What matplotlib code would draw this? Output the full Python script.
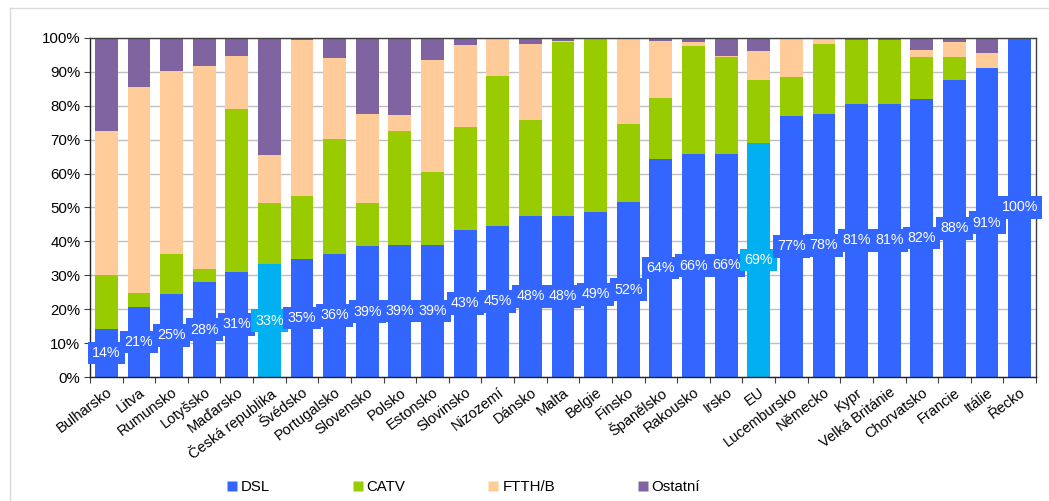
#!/usr/bin/env python3
"""Stacked 100% bar chart: broadband technology shares by country (CZ labels)."""

import matplotlib
matplotlib.use('Agg')
import matplotlib.pyplot as plt
import numpy as np
from matplotlib.lines import Line2D

plt.rcParams['font.family'] = ['Liberation Sans', 'DejaVu Sans']

countries = ['Bulharsko', 'Litva', 'Rumunsko', 'Lotyšsko', 'Maďarsko', 'Česká republika',
             'Švédsko', 'Portugalsko', 'Slovensko', 'Polsko', 'Estonsko', 'Slovinsko',
             'Nizozemí', 'Dánsko', 'Malta', 'Belgie', 'Finsko', 'Španělsko', 'Rakousko',
             'Irsko', 'EU', 'Lucembursko', 'Německo', 'Kypr', 'Velká Británie',
             'Chorvatsko', 'Francie', 'Itálie', 'Řecko']

dsl = [14.2, 20.6, 24.6, 28.0, 31.0, 33.2, 34.8, 36.3, 38.6, 38.9, 38.9, 43.4, 44.6,
       47.6, 47.6, 48.8, 51.6, 64.2, 65.7, 65.9, 69.1, 77.1, 77.6, 80.6, 80.6, 82.0,
       87.7, 91.0, 100.0]
catv = [16.0, 4.3, 11.6, 4.0, 48.1, 18.1, 18.5, 34.0, 12.7, 33.7, 21.6, 30.3, 44.3,
        28.2, 51.3, 50.8, 23.1, 18.0, 31.8, 28.5, 18.6, 11.3, 20.7, 18.9, 18.9, 12.4,
        6.7, 0.2, 0.0]
ftth = [42.5, 60.5, 54.0, 59.8, 15.5, 14.1, 46.0, 23.8, 26.2, 4.7, 33.1, 24.2, 11.1,
        22.5, 0.2, 0.1, 24.9, 16.9, 1.4, 0.2, 8.6, 11.3, 1.4, 0.0, 0.0, 2.2, 4.4, 4.4, 0.0]
ostatni = [27.3, 14.6, 9.8, 8.2, 5.4, 34.6, 0.7, 5.9, 22.5, 22.7, 6.4, 2.1, 0.0,
           1.7, 0.9, 0.3, 0.4, 0.9, 1.1, 5.4, 3.7, 0.3, 0.3, 0.5, 0.5, 3.4, 1.2, 4.4, 0.0]

highlight = ['Česká republika', 'EU']

C_DSL = '#3366FF'
C_HL = '#00B0F0'
C_CATV = '#99CC00'
C_FTTH = '#FFCC99'
C_OTH = '#8064A2'

fig = plt.figure(figsize=(10.49, 5.01), dpi=100)
ax = fig.add_axes([0.0858, 0.2475, 0.9018, 0.6767])

x = np.arange(len(countries))
w = 0.7
dsl_a = np.array(dsl)
catv_a = np.array(catv)
ftth_a = np.array(ftth)
dsl_colors = [C_HL if c in highlight else C_DSL for c in countries]

ax.bar(x, dsl_a, w, color=dsl_colors, zorder=2)
ax.bar(x, catv_a, w, bottom=dsl_a, color=C_CATV, zorder=2)
ax.bar(x, ftth_a, w, bottom=dsl_a + catv_a, color=C_FTTH, zorder=2)
ax.bar(x, ostatni, w, bottom=dsl_a + catv_a + ftth_a, color=C_OTH, zorder=2)

# value labels on the DSL segment
for xi, v, col in zip(x, dsl, dsl_colors):
    ax.text(xi, v / 2, f'{v:.0f}%', ha='center', va='center', color='white',
            fontsize=10.3, zorder=5,
            bbox=dict(boxstyle='square,pad=0.3', facecolor=col, edgecolor='none'))

ax.set_xlim(-0.5, len(countries) - 0.5)
ax.set_ylim(0, 100)
ax.set_yticks(np.arange(0, 101, 10))
ax.set_yticklabels([f'{t}%' for t in range(0, 101, 10)], fontsize=10.8)
ax.yaxis.grid(True, color='#BFBFBF', linewidth=1)
ax.set_axisbelow(True)

# tick marks between categories, labels at centres
ax.set_xticks(np.arange(len(countries) + 1) - 0.5)
ax.set_xticklabels([])
ax.set_xticks(x, minor=True)
ax.set_xticklabels(countries, minor=True, rotation=37, ha='right', va='top',
                   rotation_mode='anchor', fontsize=10.5)
ax.tick_params(axis='x', which='minor', length=0, pad=6)
ax.tick_params(axis='x', which='major', length=4, color='#404040')
ax.tick_params(axis='y', length=4, color='#404040', pad=3)

for s in ax.spines.values():
    s.set_color('#404040')
    s.set_linewidth(1)
ax.spines['left'].set_color('#222222')
ax.spines['bottom'].set_color('#222222')

handles = [Line2D([], [], marker='s', linestyle='none', markersize=6.5,
                  markerfacecolor=c, markeredgecolor='none') for c in (C_DSL, C_CATV, C_FTTH, C_OTH)]
fig.legend(handles, ['DSL', 'CATV', 'FTTH/B', 'Ostatní'], ncol=4, frameon=False,
           loc='center', bbox_to_anchor=(0.442, 0.028), fontsize=10.8,
           handlelength=0.6, handletextpad=0.3, columnspacing=5.55)

# faint chart-area border
fig.add_artist(Line2D([10 / 1049, 10 / 1049], [0, 1 - 8 / 501], transform=fig.transFigure,
                      color='#D9D9D9', linewidth=1))
fig.add_artist(Line2D([10 / 1049, 1], [1 - 8 / 501, 1 - 8 / 501], transform=fig.transFigure,
                      color='#D9D9D9', linewidth=1))

fig.savefig('out.png', dpi=100)
plt.close(fig)
